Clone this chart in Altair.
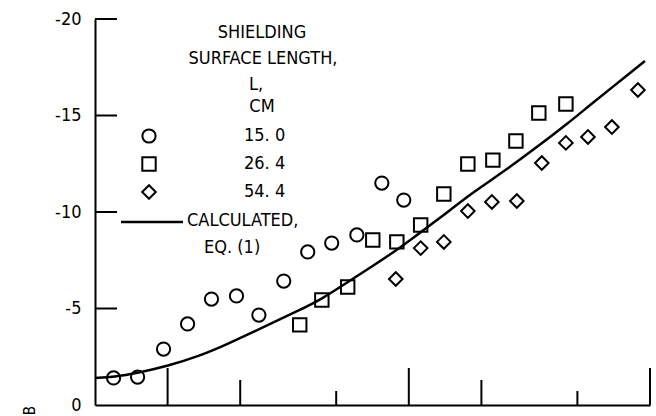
import altair as alt
import pandas as pd

# ---- data ----
series_names = ["15. 0", "26. 4", "54. 4"]

l15_x = [0.597, 0.751, 0.962, 1.21, 1.52, 1.93, 2.39, 3.03, 3.81, 4.79, 6.09, 7.73, 9.53]
l15_y = [-1.40, -1.45, -2.90, -4.20, -5.49, -5.65, -4.66, -6.42, -7.93, -8.39, -8.81, -11.50, -10.62]

l26_x = [3.53, 4.36, 5.58, 7.09, 8.92, 11.2, 13.97, 17.57, 22.31, 27.8, 34.6, 44.8]
l26_y = [-4.15, -5.44, -6.11, -8.55, -8.45, -9.33, -10.93, -12.49, -12.69, -13.68, -15.13, -15.60]

l54_x = [8.83, 11.2, 13.97, 17.57, 22.1, 28.05, 35.6, 44.8, 55.3, 69.5, 89.1]
l54_y = [-6.53, -8.13, -8.45, -10.05, -10.52, -10.57, -12.54, -13.58, -13.89, -14.40, -16.32]

calc_x = [0.5, 0.6, 0.751, 1.0, 1.358, 1.774, 2.455, 3.53, 4.355, 5.58, 7.09, 8.92,
          11.2, 14.38, 17.57, 22.31, 28.05, 35.3, 44.8, 56.4, 71.6, 95.3]
calc_y = [-1.40, -1.45, -1.66, -2.02, -2.54, -3.16, -3.99, -4.92, -5.49, -6.37, -7.20, -8.03,
          -8.96, -9.95, -10.83, -11.71, -12.59, -13.52, -14.51, -15.54, -16.58, -17.82]

y_tick_values = [-5, -10, -15, -20]
y_label_values = [0, -5, -10, -15, -20]
x_ticks_decade = [1, 10, 100]
x_ticks_two = [2, 20]
x_ticks_five = [5, 50]

title_lines = ["SHIELDING", "SURFACE LENGTH,", "L,", "CM"]
calc_lines = ["CALCULATED,", "EQ. (1)"]
y_title = "B"

# ---- tables ----
pts = pd.concat([
    pd.DataFrame({"x": l15_x, "y": l15_y, "L": series_names[0]}),
    pd.DataFrame({"x": l26_x, "y": l26_y, "L": series_names[1]}),
    pd.DataFrame({"x": l54_x, "y": l54_y, "L": series_names[2]}),
], ignore_index=True)
calc = pd.DataFrame({"x": calc_x, "y": calc_y})

FONT = "'DejaVu Sans Condensed', 'Liberation Sans Narrow', Roboto, sans-serif"
FS = 18
W, H = 555, 386

xscale = alt.Scale(type="log", domain=[0.5, 100], nice=False)
yscale = alt.Scale(domain=[0, -20], nice=False, zero=False)

x_axis = alt.Axis(labels=False, ticks=False, tickSize=0, grid=False, title=None,
                  domainColor="black", domainWidth=2)
y_axis = alt.Axis(values=y_label_values, ticks=False, tickSize=0, grid=False,
                  labelExpr="'' + datum.value",
                  labelPadding=14, labelFont=FONT, labelFontSize=FS, labelColor="black",
                  domainColor="black", domainWidth=2,
                  title=y_title, titleFont=FONT, titleFontSize=15, titleFontWeight="normal",
                  titleAngle=270, titleX=-66, titleY=391, titleAlign="center",
                  titleBaseline="middle", titleColor="black")

legend = alt.Legend(title=None, orient="none", legendX=45, legendY=108,
                    labelFont=FONT, labelFontSize=FS, labelColor="black",
                    labelOffset=86, symbolStrokeWidth=2,
                    symbolStrokeColor="black", symbolFillColor="white",
                    rowPadding=6, padding=0)

points = alt.Chart(pts).mark_point(filled=False, strokeWidth=2, color="black", opacity=1).encode(
    x=alt.X("x:Q", scale=xscale, axis=x_axis),
    y=alt.Y("y:Q", scale=yscale, axis=y_axis),
    shape=alt.Shape("L:N", scale=alt.Scale(domain=series_names, range=["circle", "square", "diamond"]),
                    legend=legend),
    size=alt.Size("L:N", scale=alt.Scale(domain=series_names, range=[175, 185, 230]),
                  legend=legend),
)

line = alt.Chart(calc).mark_line(color="black", strokeWidth=2.5, interpolate="basis").encode(
    x=alt.X("x:Q", scale=xscale),
    y=alt.Y("y:Q", scale=yscale),
)

yticks = alt.Chart(pd.DataFrame({"v": y_tick_values})).mark_rule(color="black", strokeWidth=2).encode(
    y=alt.Y("v:Q", scale=yscale), x=alt.value(0), x2=alt.value(22))

def xtick_layer(vals, length):
    return alt.Chart(pd.DataFrame({"v": vals})).mark_rule(color="black", strokeWidth=2).encode(
        x=alt.X("v:Q", scale=xscale), y=alt.value(H), y2=alt.value(H - length))

def text_layer(txt, x, y, align="center"):
    return alt.Chart(alt.Data(values=[{}])).mark_text(
        text=txt, align=align, baseline="middle", font=FONT, fontSize=FS, color="black"
    ).encode(x=alt.value(x), y=alt.value(y))

title_pos = [(167, 14), (168, 40), (161, 66), (167, 88)]
texts = [text_layer(t, px, py) for t, (px, py) in zip(title_lines, title_pos)]
texts.append(text_layer(calc_lines[0], 92, 202, "left"))
texts.append(text_layer(calc_lines[1], 109, 229, "left"))

calc_key = alt.Chart(alt.Data(values=[{}])).mark_rule(color="black", strokeWidth=2.5).encode(
    x=alt.value(26), x2=alt.value(88), y=alt.value(203))

chart = alt.layer(
    line, points, yticks,
    xtick_layer(x_ticks_decade, 37), xtick_layer(x_ticks_two, 25), xtick_layer(x_ticks_five, 14),
    calc_key, *texts
).properties(
    width=W, height=H,
    autosize=alt.AutoSizeParams(type="none"),
    padding={"left": 95, "top": 19, "right": 6, "bottom": 11},
    background="white",
).configure_view(stroke=None)

chart.save("out.html", embed_options={"renderer": "svg", "actions": False})
